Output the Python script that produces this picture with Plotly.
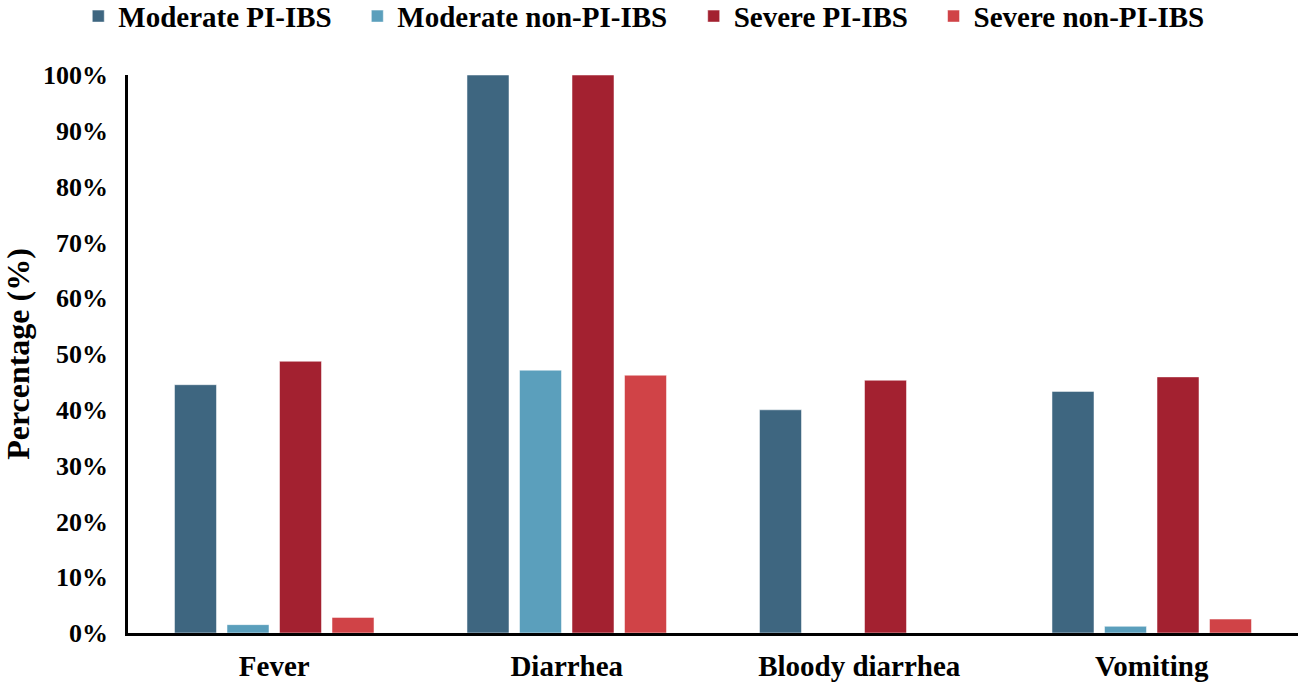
import plotly.graph_objects as go

categories = ["Fever", "Diarrhea", "Bloody diarrhea", "Vomiting"]
series_names = ["Moderate PI-IBS", "Moderate non-PI-IBS", "Severe PI-IBS", "Severe non-PI-IBS"]
moderate_pi = [44.5, 100, 40.0, 43.3]
moderate_non_pi = [1.5, 47.1, 0, 1.2]
severe_pi = [48.7, 100, 45.3, 45.9]
severe_non_pi = [2.8, 46.2, 0, 2.5]
colors = ["#3E6680", "#5B9FBC", "#A32130", "#D04347"]
y_ticks = [0, 10, 20, 30, 40, 50, 60, 70, 80, 90, 100]
y_tick_labels = [f"{v}%" for v in y_ticks]

font_family = "Liberation Serif"
legend_ids = ["legend", "legend2", "legend3", "legend4"]
legend_x = [-0.0425, 0.196, 0.4835, 0.6885]

fig = go.Figure()
for name, vals, col, lid in zip(series_names, [moderate_pi, moderate_non_pi, severe_pi, severe_non_pi], colors, legend_ids):
    fig.add_trace(go.Bar(
        x=categories, y=vals, name=name, legend=lid, showlegend=True,
        marker=dict(color=col, line=dict(color="rgba(255,255,255,0.5)", width=1)),
    ))

legend_common = dict(
    orientation="h", xref="paper", y=1.151, yref="paper",
    yanchor="top", xanchor="left", bgcolor="rgba(0,0,0,0)",
    font=dict(family=font_family, size=29, color="black", weight="bold"),
    itemwidth=30, tracegroupgap=0,
)
legends = {lid: dict(legend_common, x=lx) for lid, lx in zip(legend_ids, legend_x)}

fig.update_layout(
    width=1300, height=685,
    showlegend=True,
    barmode="group", bargap=0.282, bargroupgap=0.2,
    plot_bgcolor="white", paper_bgcolor="white",
    margin=dict(l=128, r=2, t=75, b=52, autoexpand=False),
    font=dict(family=font_family, color="black"),
    xaxis=dict(
        showline=True, linecolor="black", linewidth=2.5,
        ticks="", showgrid=False, automargin=False,
        ticklabelstandoff=5,
        tickfont=dict(family=font_family, size=29, color="black", weight="bold"),
    ),
    yaxis=dict(
        range=[0, 100], tickmode="array", tickvals=y_ticks, ticktext=y_tick_labels,
        showline=True, linecolor="black", linewidth=2.5,
        ticks="", showgrid=False, zeroline=False, automargin=False,
        ticklabelstandoff=12,
        tickfont=dict(family=font_family, size=26, color="black", weight="bold"),
        title=dict(text="Percentage (%)", standoff=8,
                   font=dict(family=font_family, size=32, color="black", weight="bold")),
    ),
    **legends,
)

fig.write_html("out.html", config={"displayModeBar": False},
               post_script="document.body.style.margin='0';")
